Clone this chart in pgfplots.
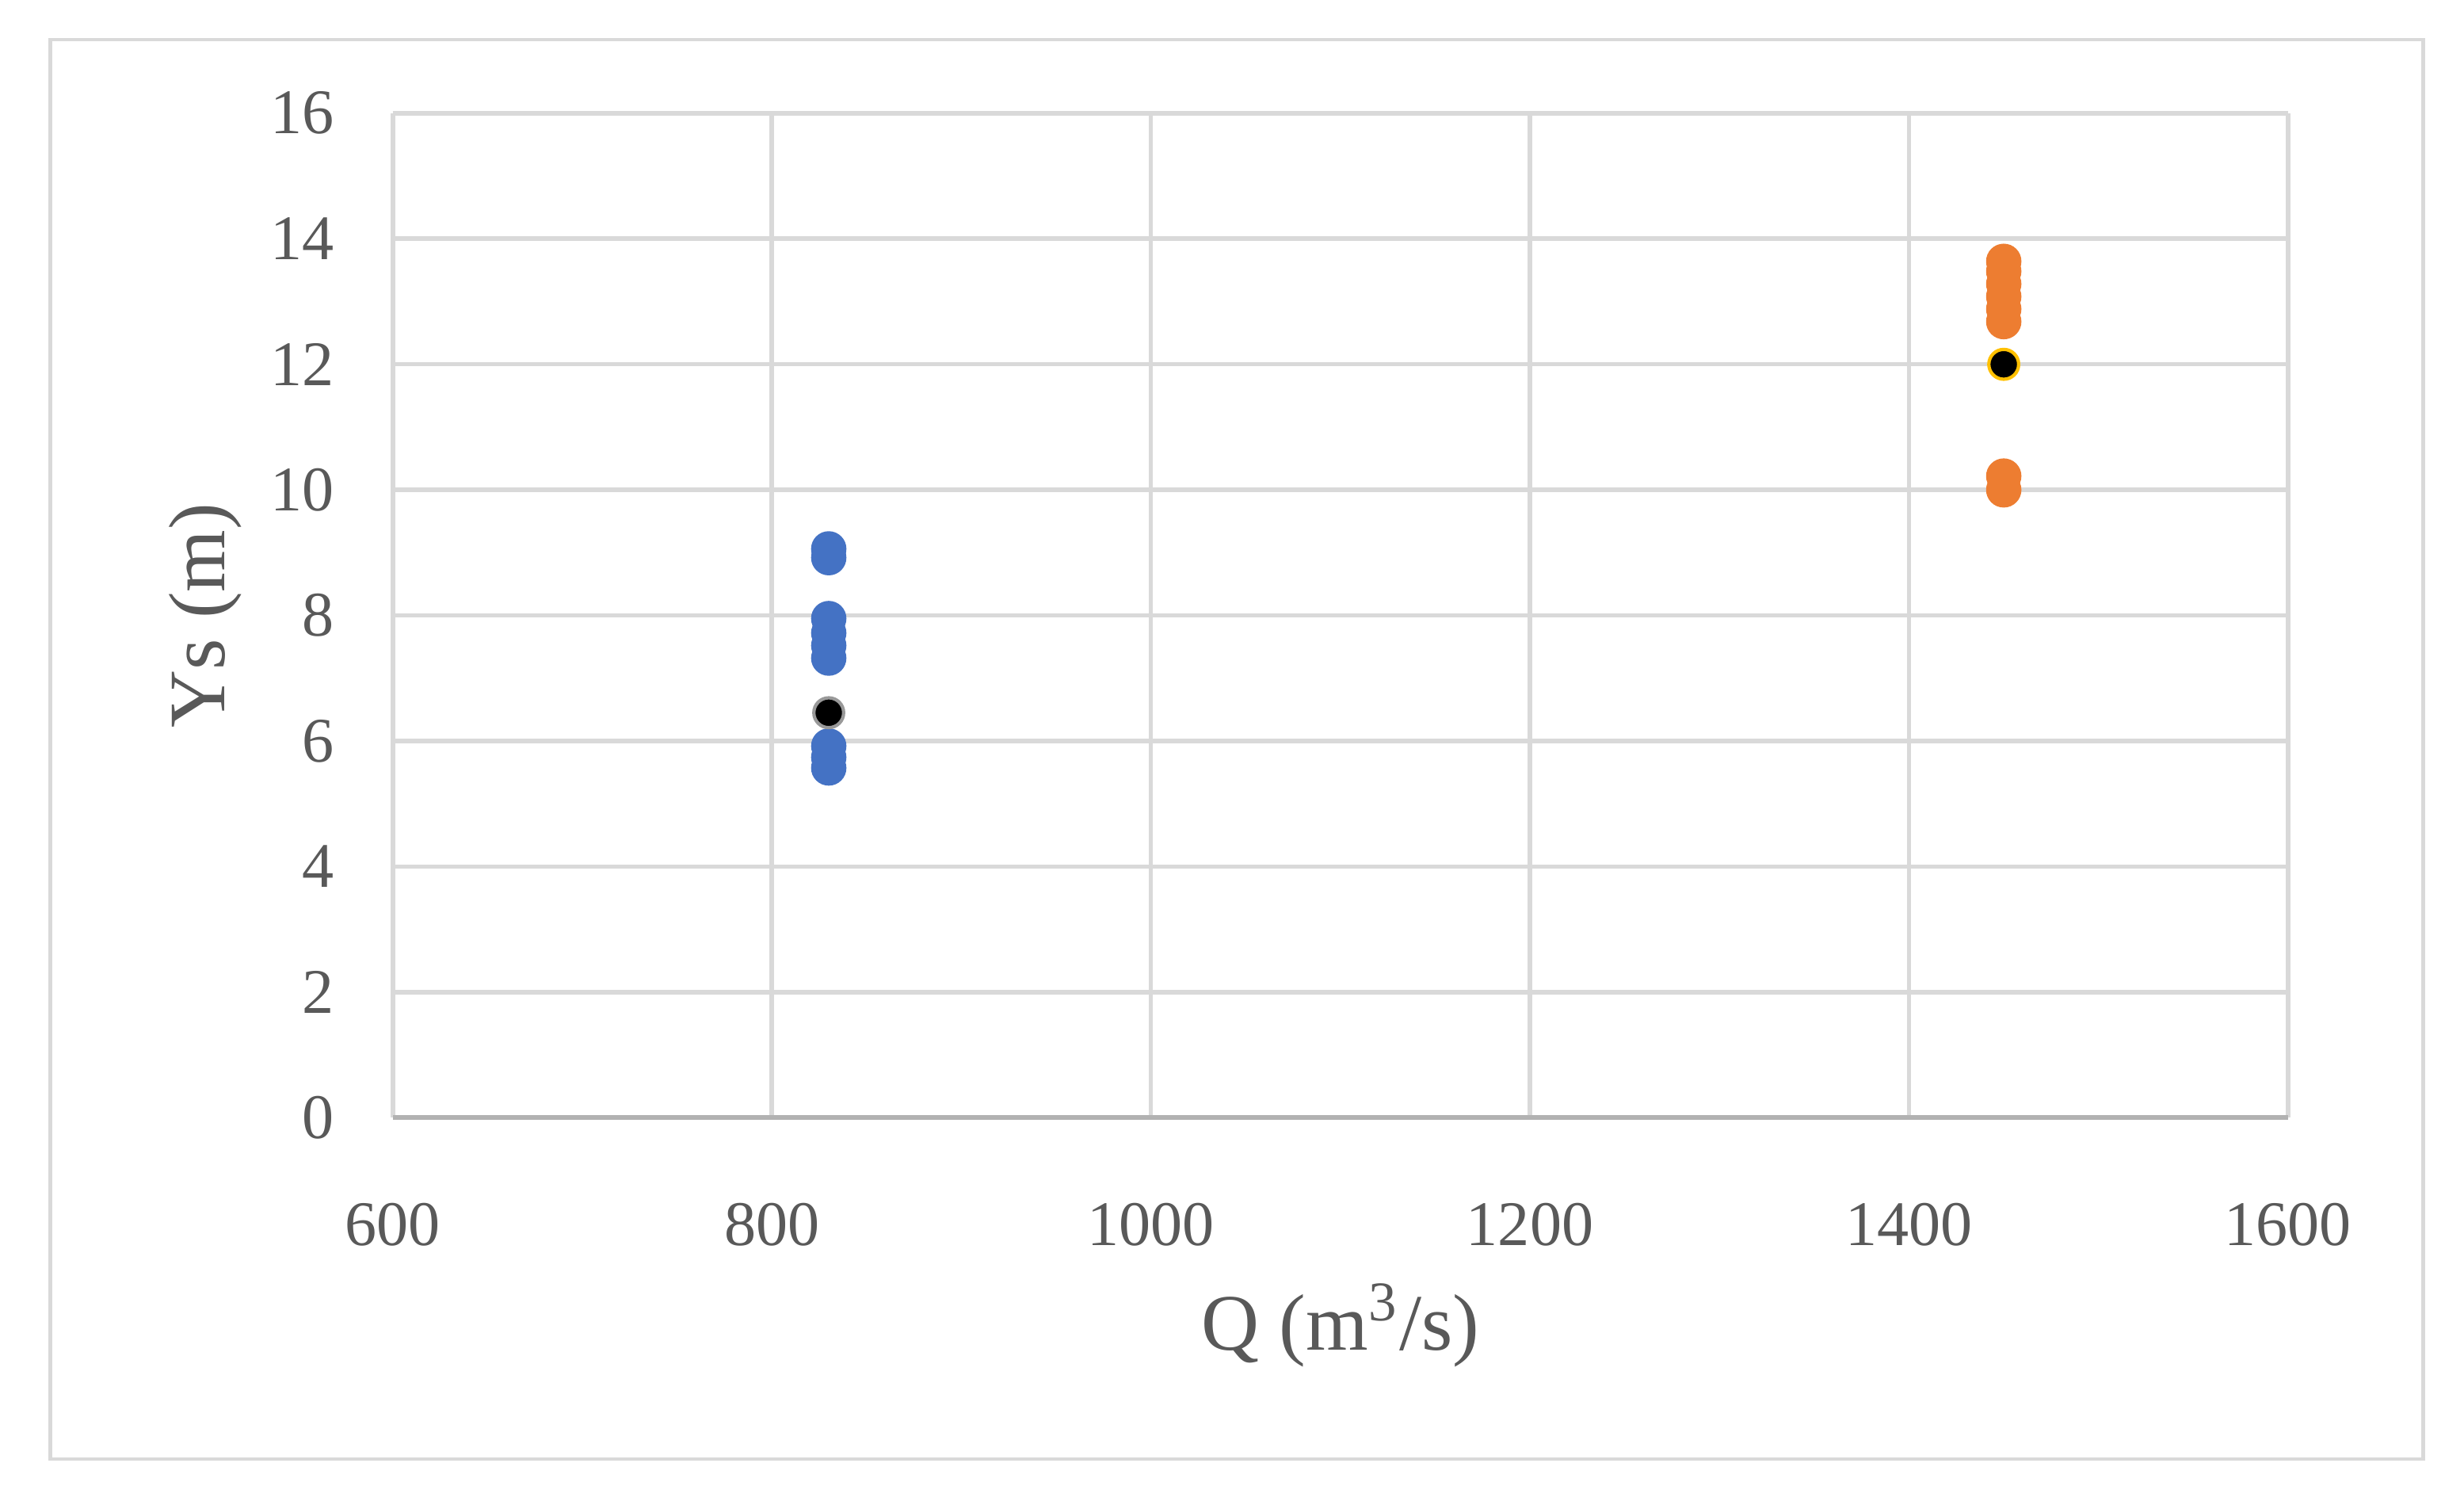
\documentclass[border=0pt]{standalone}
\usepackage{fontspec}
\setmainfont{Liberation Serif}
\usepackage{pgfplots}
\pgfplotsset{compat=1.18}
\definecolor{exblue}{HTML}{4472C4}
\definecolor{exorange}{HTML}{ED7D31}
\definecolor{exgold}{HTML}{FFC000}
\definecolor{txtgray}{HTML}{595959}
\definecolor{gridgray}{HTML}{D9D9D9}
\begin{document}
\begin{tikzpicture}
% page bounds and outer frame
\path (-2.5cm,-2.46cm) rectangle (13.18cm,7.11cm);
\draw[gridgray,line width=0.6pt] (-2.18cm,-2.17cm) rectangle (12.92cm,6.86cm);
\begin{axis}[
  at={(0,0)},anchor=south west,
  scale only axis,width=12.06cm,height=6.39cm,
  xmin=600,xmax=1600,ymin=0,ymax=16,
  xtick={600,800,...,1600},ytick={0,2,...,16},
  grid=major,major grid style={gridgray,line width=0.8pt},
  axis line style={draw=none},
  major tick length=0pt,
  /pgf/number format/assume math mode=true,
  /pgf/number format/1000 sep={},
  tick label style={font=\fontsize{11.5}{13}\selectfont,text=txtgray},
  xticklabel style={yshift=-4.2mm},
  yticklabel style={xshift=-2.5mm},
  xlabel={Q (m\textsuperscript{3}/s)},
  ylabel={Ys (m)},
  label style={font=\fontsize{14.5}{17}\selectfont,text=txtgray},
  xlabel style={yshift=0mm},
  ylabel style={yshift=-0.6mm},
  clip=false,
]
\draw[gray!60,line width=0.9pt] (axis cs:600,0) -- (axis cs:1600,0);
\addplot[only marks,mark=*,mark size=3pt,color=exblue] coordinates {
 (830,8.92) (830,9.06)
 (830,7.32) (830,7.52) (830,7.72) (830,7.95)
 (830,5.57) (830,5.74) (830,5.92)
};
\addplot[only marks,mark=*,mark size=3pt,color=exorange] coordinates {
 (1450,12.68) (1450,12.88) (1450,13.08) (1450,13.28) (1450,13.48) (1450,13.64)
 (1450,10.0) (1450,10.22)
};
\addplot[only marks,mark=*,mark size=2.7pt,draw=gray!80,fill=black,line width=0.6pt] coordinates {
 (830,6.45)
};
\addplot[only marks,mark=*,mark size=2.7pt,draw=exgold,fill=black,line width=0.6pt] coordinates {
 (1450,12.0)
};
\end{axis}
\end{tikzpicture}
\end{document}
